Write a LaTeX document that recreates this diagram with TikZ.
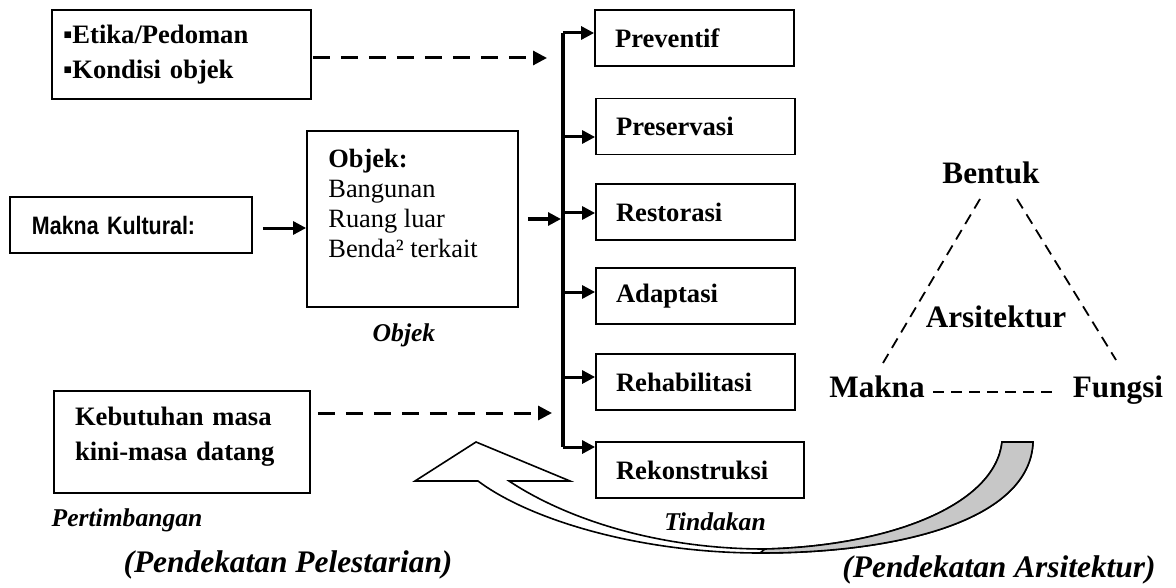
\documentclass[tikz,border=0pt]{standalone}
\usepackage{fontspec}
\setmainfont{Liberation Serif}
\newfontfamily\narrowsans[FakeStretch=0.85]{Liberation Sans}
\usetikzlibrary{arrows.meta,calc}
\begin{document}
\begin{tikzpicture}[x=0.5pt,y=-0.5pt,
 box/.style={draw, line width=0.9pt, inner ysep=0pt, align=left},
 btxt/.style={font=\bfseries\fontsize{13.3}{17.5}\selectfont},
 rbox/.style={box,btxt,minimum height=28pt,inner xsep=10pt,text width=79.5pt},
 spine/.style={line width=1.6pt},
 arr/.style={line width=1.5pt, -{Triangle[length=6.5pt,width=6.5pt]}},
 darr/.style={line width=1.5pt, dash pattern=on 8.5pt off 5.5pt, -{Triangle[length=7pt,width=7pt]}},
 tri/.style={line width=0.9pt, dash pattern=on 5.5pt off 3.5pt},
 bigw/.style={font=\bfseries\fontsize{15.6}{18}\selectfont},
 itl/.style={font=\bfseries\itshape\fontsize{12.8}{15}\selectfont},
 bigit/.style={font=\bfseries\itshape\fontsize{15.7}{18}\selectfont},
 band/.style={line width=0.8pt},
]
\useasboundingbox (0,0) rectangle (1176,588);

% left boxes
\node[box,btxt,minimum height=44.5pt,inner xsep=5.5pt,text width=118.5pt] (etika) at (181.5,54.5) {▪Etika/Pedoman\\▪Kondisi objek};
\node[box,font=\narrowsans\bfseries\fontsize{12.6}{15}\selectfont,minimum height=28pt,inner xsep=11pt,text width=99pt] (makna) at (131,225) {Makna Kultural:};
\node[box,minimum width=105.5pt,minimum height=88pt] (objek) at (412.5,219) {};
\node[anchor=north west,inner sep=0pt,align=left,font=\fontsize{13.2}{15}\selectfont] (objtext) at (328,149) {\textbf{Objek:}\\Bangunan\\Ruang luar\\Benda² terkait};
\node[box,minimum width=128pt,minimum height=51pt] (keb) at (182,442) {};
\node[btxt,align=left,text width=107pt,inner sep=0pt] (kebtext) at (182,437) {Kebutuhan masa\\kini-masa datang};

% right boxes
\node[rbox] (prev) at (694.5,38) {Preventif};
\node[rbox] (pres) at (695.5,126.5) {Preservasi};
\node[rbox] (rest) at (695.5,212) {Restorasi};
\node[rbox] (adap) at (695.5,296) {Adaptasi};
\node[rbox] (reha) at (695.5,382) {Rehabilitasi};
\node[rbox,text width=84pt] (reko) at (700,470) {Rekonstruksi};

% spine
\coordinate (s1) at (563,33);
\coordinate (s2) at (563,137);
\coordinate (s3) at (563,213);
\coordinate (s4) at (563,292);
\coordinate (s5) at (563,377);
\coordinate (s6) at (563,447);
\coordinate (sobj) at (561,219);
\draw[spine] (s1) -- (s6);
\draw[arr] (s1) -- (s1 -| prev.west);
\draw[arr] (s2) -- (s2 -| pres.west);
\draw[arr] (s3) -- (s3 -| rest.west);
\draw[arr] (s4) -- (s4 -| adap.west);
\draw[arr] (s5) -- (s5 -| reha.west);
\draw[arr] (s6) -- (s6 -| reko.west);

\draw[arr] ([xshift=4.5pt]objek.east) -- (sobj);
\draw[arr] ([xshift=5pt,yshift=-1.5pt]makna.east) -- ([yshift=-4.5pt]objek.west);

\coordinate (d1) at (547,58);
\coordinate (d2) at (552,413);
\draw[darr] ([xshift=0.5pt]etika.east |- d1) -- (d1);
\draw[darr] ([xshift=3.5pt]keb.east |- d2) -- (d2);

% triangle
\node[bigw] (bentuk) at (991,173) {Bentuk};
\node[bigw] (arsi) at (996,317) {Arsitektur};
\node[bigw,anchor=base] (maknaR) at (877,397) {Makna};
\node[bigw,anchor=base] (fungsi) at (1118,397) {Fungsi};
\coordinate (tl1) at (980,199);
\coordinate (tl2) at (883,363);
\coordinate (tr1) at (1017,199);
\coordinate (tr2) at (1116,360);
\coordinate (tb1) at (933,392);
\coordinate (tb2) at (1056,392);
\draw[tri] (tl1) -- (tl2);
\draw[tri] (tr1) -- (tr2);
\draw[tri] (tb1) -- (tb2);

% labels
\node[itl] (lobj) at (404,335) {Objek};
\node[itl] (lpert) at (127,520) {Pertimbangan};
\node[itl] (ltind) at (715,522) {Tindakan};
\node[bigit] (lpel) at (288,565) {(Pendekatan Pelestarian)};
\node[bigit] (lars) at (999,570) {(Pendekatan Arsitektur)};

% curved arrow
\draw[band,fill=white] (1033,442) .. controls (1030,520) and (900,553) .. (760,553) .. controls (640,553) and (530,520) .. (478,481) -- (415,481) -- (476,442) -- (570,481) -- (509,481) .. controls (560,515) and (650,549) .. (765,549) .. controls (890,546) and (995,505) .. (1002,442) -- cycle;
\draw[band,fill=black!22] (1033,442) .. controls (1030,520) and (900,553) .. (760,553) -- (765,549) .. controls (890,546) and (995,505) .. (1002,442) -- cycle;
\end{tikzpicture}
\end{document}
